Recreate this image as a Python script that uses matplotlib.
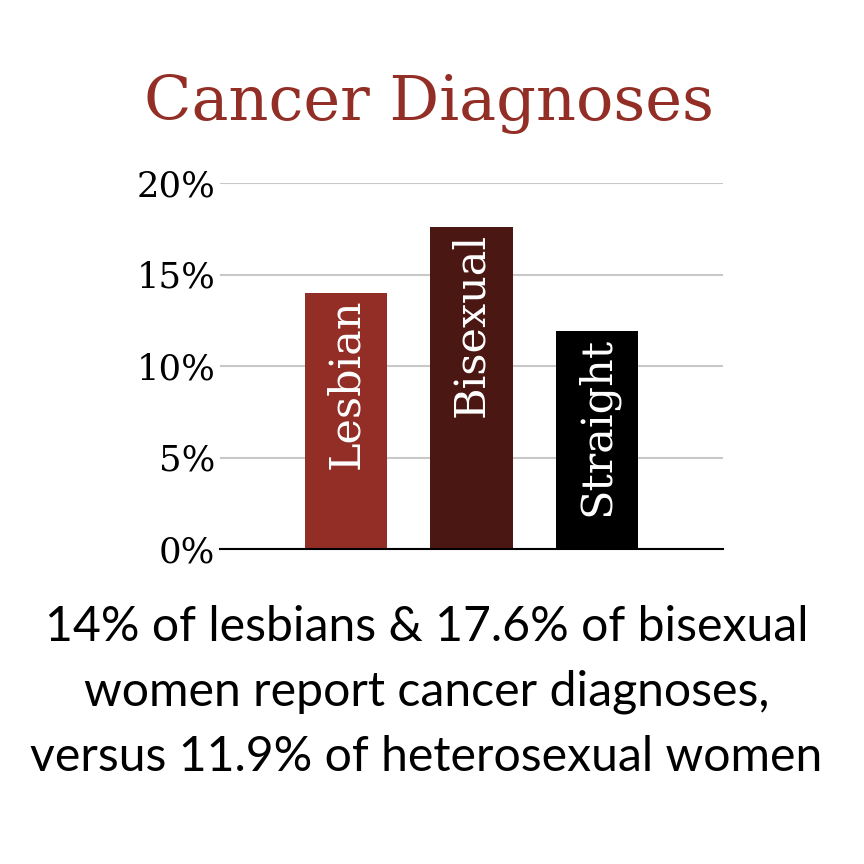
import matplotlib.pyplot as plt

# data
groups = ['Lesbian', 'Bisexual', 'Straight']
pct = [14.0, 17.6, 11.9]
bar_colors = ['#922e25', '#4b1713', '#000000']
yticks = [0, 5, 10, 15, 20]
ytick_labels = ['0%', '5%', '10%', '15%', '20%']
caption = ['14% of lesbians & 17.6% of bisexual',
           'women report cancer diagnoses,',
           'versus 11.9% of heterosexual women']

serif = 'DejaVu Serif'
sans = 'Lato'

fig = plt.figure(figsize=(8.64, 8.64), dpi=100)
W = H = 864.0
# axes box in pixels: x 220..723, y 183..549 (from top)
ax = fig.add_axes([220 / W, 1 - 549 / H, 503 / W, 366 / H])

x = range(len(groups))
ax.bar(x, pct, width=0.653, color=bar_colors, zorder=3)

for i, (g, v) in enumerate(zip(groups, pct)):
    ax.annotate(g, (i, v), xytext=(0, -4), textcoords='offset points',
                rotation=90, ha='center', va='top', color='white',
                fontsize=31, family=serif, zorder=4)

ax.set_xlim(-1, 3)
ax.set_ylim(0, 20)
ax.set_yticks(yticks)
ax.set_yticklabels(ytick_labels, family=serif, fontsize=25.5)
ax.tick_params(axis='y', length=0, pad=3.5)
ax.set_xticks([])
ax.grid(axis='y', color='#c8c8c8', linewidth=1.5, zorder=0)
for s in ['top', 'right', 'left']:
    ax.spines[s].set_visible(False)
ax.spines['bottom'].set_color('black')
ax.spines['bottom'].set_linewidth(1.5)
ax.spines['bottom'].set_zorder(5)
ax.set_facecolor('none')

fig.text(428.5 / W, 1 - 120 / H, 'Cancer Diagnoses', ha='center', va='baseline',
         family=serif, fontsize=44.7, color='#922e25')

for line, yb in zip(caption, [641, 706, 771]):
    fig.text(426.5 / W, 1 - yb / H, line, ha='center', va='baseline',
             family=sans, fontsize=34.7, color='black')

fig.savefig('out.png', dpi=100)
